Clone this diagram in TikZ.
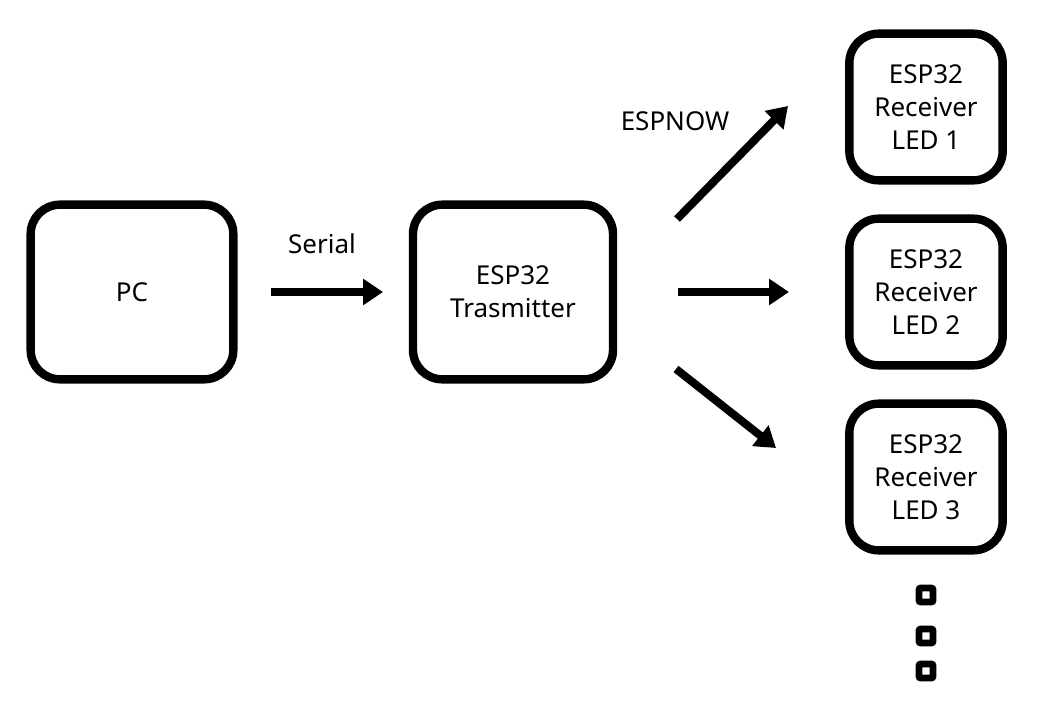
\documentclass[tikz,border=0pt]{standalone}
\usepackage{fontspec}
\setmainfont{Noto Sans}
\usetikzlibrary{arrows.meta}

\begin{document}
\begin{tikzpicture}[x=0.75pt,y=-0.75pt]
\tikzset{box/.style={draw=black,line width=6.3pt,rounded corners=22pt,align=center,
  font=\fontsize{19.5}{24.75}\selectfont,inner sep=0pt},
  flow/.style={line width=6pt,-{Triangle[length=15pt,width=19pt]}},
  lbl/.style={font=\fontsize{19.5}{24.75}\selectfont,inner sep=0pt},
  dot/.style={draw=black,line width=5.2pt,rounded corners=1.5pt,minimum size=10.5pt,inner sep=0pt}}
\useasboundingbox (0,0) rectangle (1041,706);
% boxes
\node [box,minimum width=152pt,minimum height=131pt] (pc) at (132,292) {PC};
\node [box,minimum width=150pt,minimum height=131pt] (tx) at (513,292) {ESP32\\Trasmitter};
\node [box,minimum width=115pt,minimum height=110pt] (rx1) at (926,107) {ESP32\\Receiver\\LED 1};
\node [box,minimum width=115pt,minimum height=110pt] (rx2) at (926,292) {ESP32\\Receiver\\LED 2};
\node [box,minimum width=115pt,minimum height=110pt] (rx3) at (926,477) {ESP32\\Receiver\\LED 3};
% more receivers
\node [dot] (d1) at (926,595) {};
\node [dot] (d2) at (926,636) {};
\node [dot] (d3) at (926,671) {};
% arrow ends
\coordinate (s0) at (271,292);
\coordinate (s1) at (383,292);
\coordinate (e0) at (678,292);
\coordinate (e1) at (789,292);
\coordinate (u0) at (677,219);
\coordinate (u1) at (788,106);
\coordinate (l0) at (676,369);
\coordinate (l1) at (776,448);
\draw [flow] (s0) -- (s1);
\draw [flow] (e0) -- (e1);
\draw [flow] (u0) -- (u1);
\draw [flow] (l0) -- (l1);
\node [lbl] (serial) at (322,244) {Serial};
\node [lbl] (espnow) at (675,121) {ESPNOW};
\end{tikzpicture}
\end{document}
